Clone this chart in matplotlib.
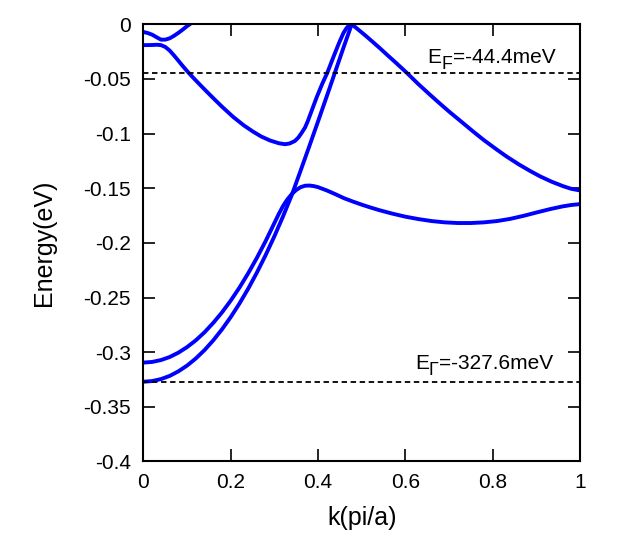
import matplotlib
matplotlib.use("Agg")
import matplotlib.pyplot as plt

plt.rcParams['font.family'] = ['Liberation Sans', 'DejaVu Sans']

# bands, k in pi/a, energy in eV
k_a = [0.0, 0.01, 0.02, 0.03, 0.04, 0.05, 0.06, 0.07, 0.08, 0.09, 0.10, 0.106, 0.115]
e_a = [-0.0070, -0.0080, -0.0095, -0.0118, -0.0140, -0.0140, -0.0128, -0.0105,
       -0.0078, -0.0048, -0.0016, 0.0, 0.004]

k_b = [0.0, 0.01, 0.02, 0.03, 0.04, 0.05, 0.06, 0.07, 0.08, 0.09, 0.1026, 0.115,
       0.13, 0.145, 0.16, 0.18, 0.2057, 0.23, 0.2515, 0.27, 0.29, 0.31, 0.3242,
       0.335, 0.347, 0.355, 0.362, 0.37, 0.376, 0.383, 0.39, 0.397, 0.41, 0.421,
       0.435, 0.448, 0.458, 0.465, 0.471, 0.476]
e_b = [-0.0190, -0.0190, -0.0189, -0.0187, -0.0190, -0.0207, -0.0240, -0.0285,
       -0.0333, -0.0382, -0.0440, -0.0493, -0.0555, -0.0616, -0.0676, -0.0754,
       -0.0848, -0.0925, -0.0983, -0.1027, -0.1063, -0.1088, -0.1097, -0.1090,
       -0.1067, -0.1035, -0.0995, -0.0945, -0.0890, -0.0815, -0.0740, -0.0665,
       -0.0540, -0.0444, -0.0300, -0.0170, -0.0080, -0.0035, -0.0010, 0.0]

k_c = [0.0, 0.02, 0.04, 0.06, 0.08, 0.10, 0.12, 0.14, 0.16, 0.18, 0.20, 0.22, 0.24,
       0.26, 0.28, 0.30, 0.31, 0.32, 0.33, 0.34, 0.35, 0.36, 0.37, 0.38, 0.39, 0.40,
       0.42, 0.44, 0.46, 0.48, 0.50, 0.52, 0.54, 0.57, 0.60, 0.63, 0.66, 0.69, 0.72,
       0.75, 0.78, 0.81, 0.84, 0.87, 0.90, 0.93, 0.96, 0.98, 1.0]
e_c = [-0.3095, -0.3089, -0.3072, -0.3044, -0.3004, -0.2953, -0.2891, -0.2817,
       -0.2731, -0.2635, -0.2527, -0.2408, -0.2277, -0.2135, -0.1982, -0.1817,
       -0.1735, -0.1660, -0.1600, -0.1552, -0.1515, -0.1490, -0.1477, -0.1475,
       -0.1480, -0.1490, -0.1520, -0.1555, -0.1592, -0.1622, -0.1650, -0.1676,
       -0.1700, -0.1732, -0.1760, -0.1782, -0.1800, -0.1812, -0.1818, -0.1818,
       -0.1812, -0.1800, -0.1780, -0.1753, -0.1722, -0.1692, -0.1666, -0.1653,
       -0.1645]

k_d = [0.0, 0.02, 0.04, 0.06, 0.08, 0.10, 0.12, 0.14, 0.16, 0.18, 0.20, 0.22, 0.24,
       0.26, 0.28, 0.30, 0.32, 0.34, 0.36, 0.38, 0.40, 0.42, 0.44, 0.46, 0.477]
e_d = [-0.3270, -0.3264, -0.3246, -0.3217, -0.3175, -0.3122, -0.3057, -0.2980,
       -0.2891, -0.2790, -0.2678, -0.2554, -0.2418, -0.2270, -0.2110, -0.1938,
       -0.1754, -0.1559, -0.1338, -0.1114, -0.0887, -0.0657, -0.0425, -0.0192, 0.0]

k_e = [0.477, 0.485, 0.495, 0.51, 0.525, 0.542, 0.56, 0.58, 0.603, 0.63, 0.656, 0.679,
       0.70, 0.73, 0.7556, 0.78, 0.81, 0.832, 0.86, 0.885, 0.908, 0.935, 0.962, 0.98,
       1.0]
e_e = [0.0, -0.0025, -0.0058, -0.0108, -0.0160, -0.0220, -0.0286, -0.0358, -0.0443,
       -0.0548, -0.0643, -0.0725, -0.0798, -0.0897, -0.0982, -0.1060, -0.1148,
       -0.1210, -0.1282, -0.1340, -0.1390, -0.1440, -0.1482, -0.1505, -0.1520]

e_fermi = -0.0444
e_gamma = -0.3276

xticks = [0, 0.2, 0.4, 0.6, 0.8, 1]
xtick_labels = ['0', '0.2', '0.4', '0.6', '0.8', '1']
yticks = [-0.4, -0.35, -0.3, -0.25, -0.2, -0.15, -0.1, -0.05, 0]
ytick_labels = ['-0.4', '-0.35', '-0.3', '-0.25', '-0.2', '-0.15', '-0.1', '-0.05', '0']

fig = plt.figure(figsize=(6.23, 5.37), dpi=100)
ax = fig.add_axes([0.2303, 0.1406, 0.7007, 0.8141])

for k, e in [(k_a, e_a), (k_b, e_b), (k_c, e_c), (k_d, e_d), (k_e, e_e)]:
    ax.plot(k, e, color='#0000ff', lw=2.8, solid_joinstyle='round')

# fermi level and band bottom
ax.plot([0, 1], [e_fermi, e_fermi], color='black', lw=1.3, ls=(0, (3.0, 2.0)))
ax.plot([0, 1], [e_gamma, e_gamma], color='black', lw=1.3, ls=(0, (3.0, 2.0)))

ax.set_xlim(0, 1)
ax.set_ylim(-0.4, 0)
ax.set_xticks(xticks)
ax.set_xticklabels(xtick_labels)
ax.set_yticks(yticks)
ax.set_yticklabels(ytick_labels)
ax.tick_params(direction='in', top=True, right=True, length=8.5, width=1.2, labelsize=15)
ax.tick_params(axis='x', pad=8)
ax.tick_params(axis='y', pad=9)
for s in ax.spines.values():
    s.set_linewidth(1.5)

ax.set_xlabel('k(pi/a)', fontsize=18)
ax.set_ylabel('Energy(eV)', fontsize=18)
ax.xaxis.label.set_va('center')
ax.yaxis.label.set_va('center')
ax.xaxis.set_label_coords(0.5, -0.129)
ax.yaxis.set_label_coords(-0.2286, 0.5)


# gnuplot style label with a big, lowered subscript
def sub_label(x, y, main, sub, rest, size=15):
    fig.canvas.draw()
    r = fig.canvas.get_renderer()
    t1 = ax.text(x, y, main, fontsize=size, va='baseline')
    w1 = t1.get_window_extent(r).width * 72 / fig.dpi
    t2 = ax.annotate(sub, (x, y), xytext=(w1, -4.5), textcoords='offset points',
                     fontsize=size * 0.85, va='baseline')
    w2 = t2.get_window_extent(r).width * 72 / fig.dpi
    ax.annotate(rest, (x, y), xytext=(w1 + w2, 0), textcoords='offset points',
                fontsize=size, va='baseline')


sub_label(0.651, -0.0351, 'E', 'F', '=-44.4meV')
sub_label(0.6216, -0.315, 'E', '\u0393', '=-327.6meV')

fig.savefig('out.png', dpi=100)
